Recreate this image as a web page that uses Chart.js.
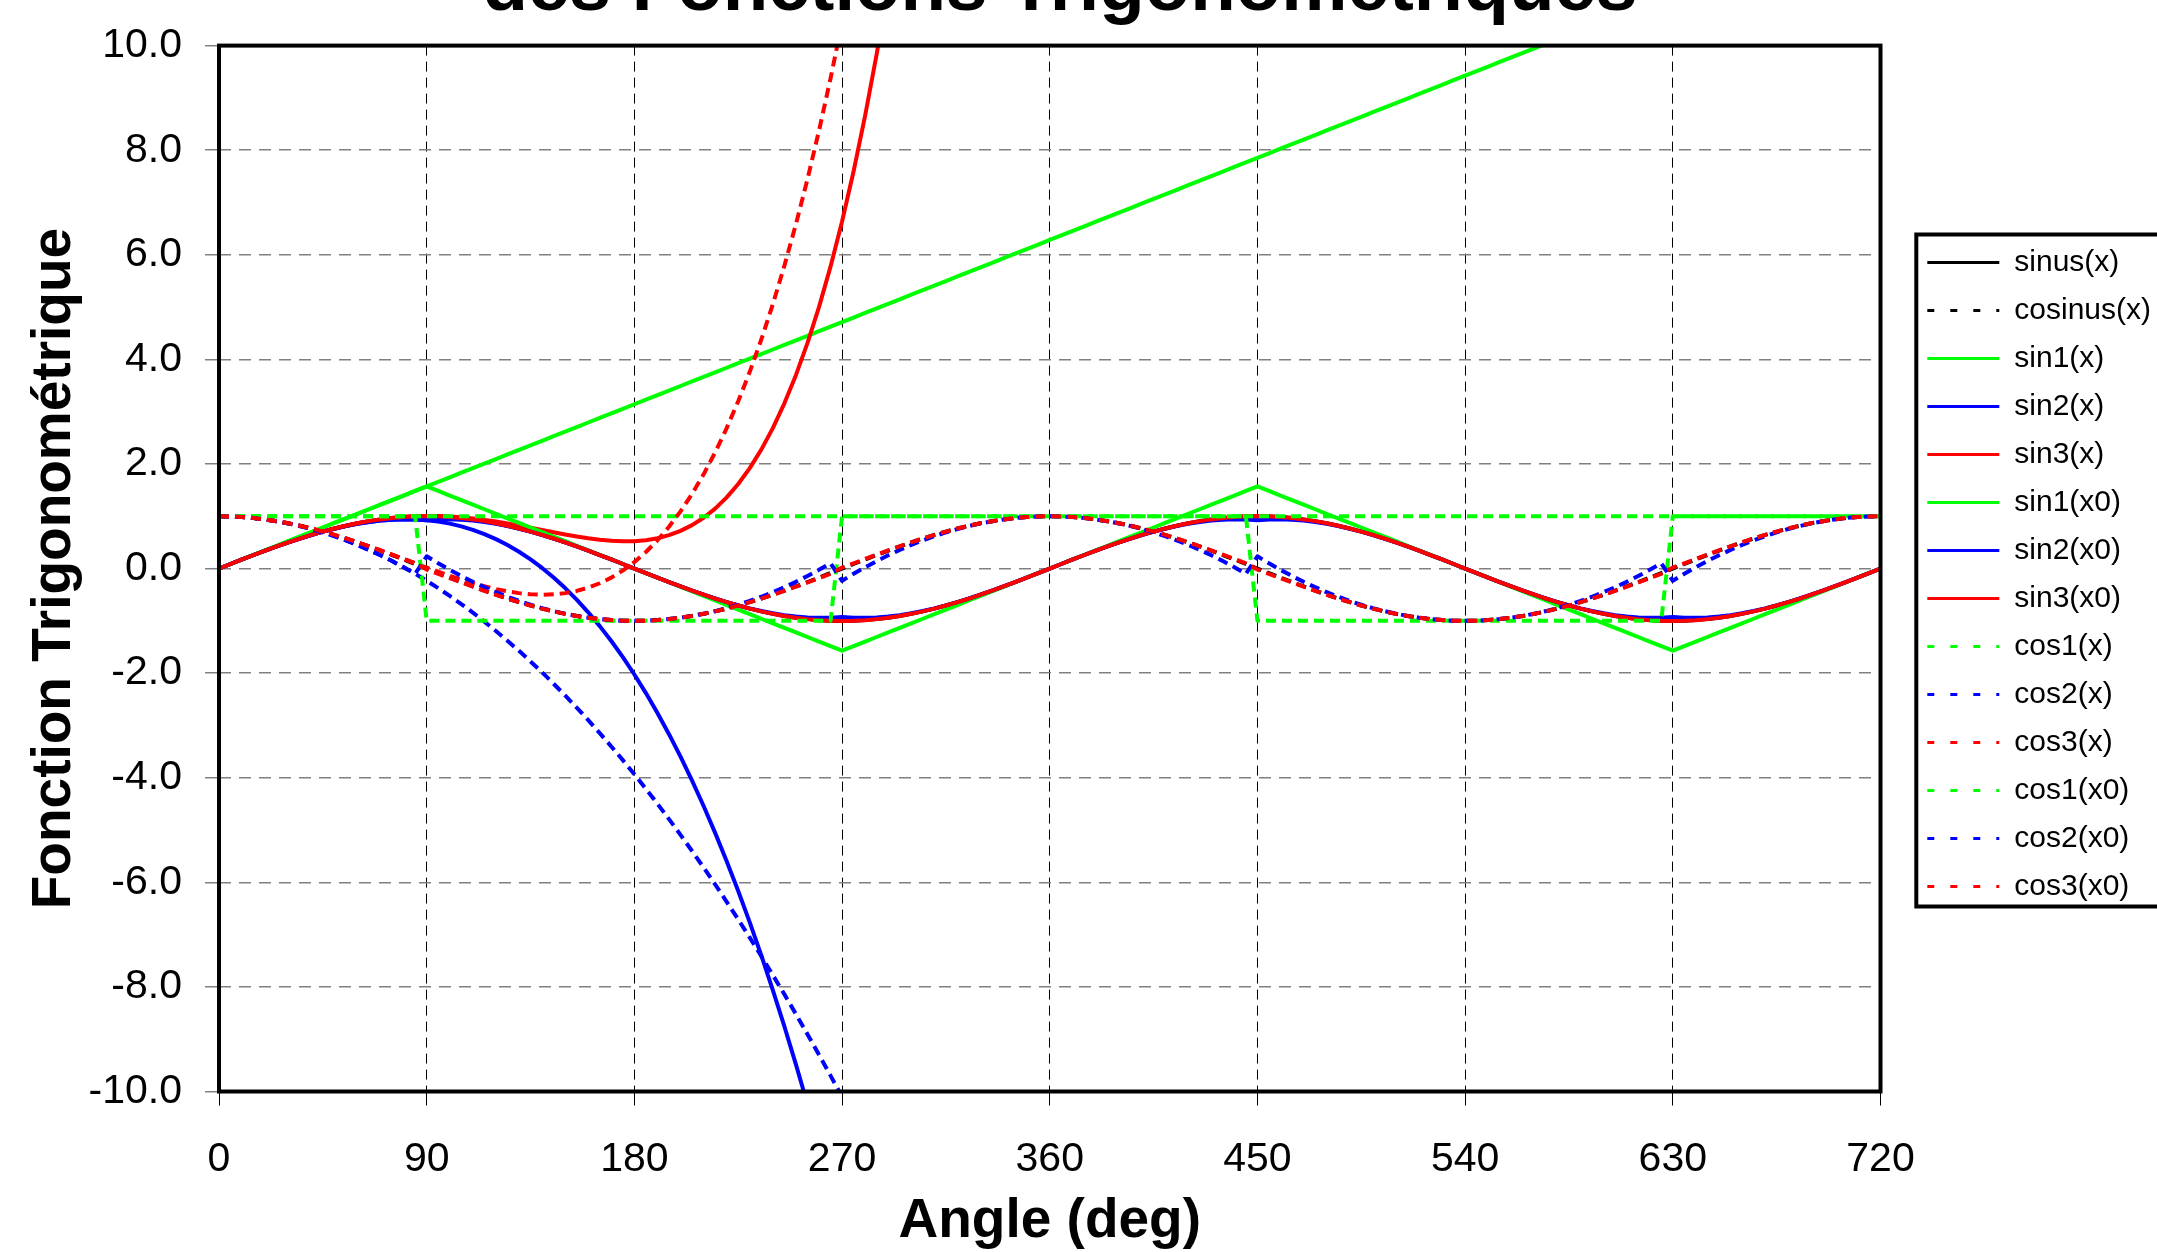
<!DOCTYPE html>
<html>
<head>
<meta charset="utf-8">
<script src="https://cdn.jsdelivr.net/npm/chart.js@4/dist/chart.umd.min.js"></script>
<style>
html,body{margin:0;padding:0;background:#fff;overflow:hidden;width:2157px;height:1252px;}
#c{position:absolute;left:-41px;top:-106px;}
</style>
</head>
<body>
<canvas id="c" width="2202" height="1361"></canvas>
<script>
// ---------- data ----------
const chartTitle = 'des Fonctions Trigonométriques';
const xTitle = 'Angle (deg)';
const yTitle = 'Fonction Trigonométrique';
const xTickValues = [0, 90, 180, 270, 360, 450, 540, 630, 720];
const yTickValues = [-10, -8, -6, -4, -2, 0, 2, 4, 6, 8, 10];

const seriesNames = ['sinus(x)','cosinus(x)','sin1(x)','sin2(x)','sin3(x)','sin1(x0)','sin2(x0)','sin3(x0)','cos1(x)','cos2(x)','cos3(x)','cos1(x0)','cos2(x0)','cos3(x0)'];

const angles = [0,5,10,15,20,25,30,35,40,45,50,55,60,65,70,75,80,85,90,95,100,105,110,115,120,125,130,135,140,145,150,155,160,165,170,175,180,185,190,195,200,205,210,215,220,225,230,235,240,245,250,255,260,265,270,275,280,285,290,295,300,305,310,315,320,325,330,335,340,345,350,355,360,365,370,375,380,385,390,395,400,405,410,415,420,425,430,435,440,445,450,455,460,465,470,475,480,485,490,495,500,505,510,515,520,525,530,535,540,545,550,555,560,565,570,575,580,585,590,595,600,605,610,615,620,625,630,635,640,645,650,655,660,665,670,675,680,685,690,695,700,705,710,715,720];

const sinusX = [0,.087,.174,.259,.342,.423,.5,.574,.643,.707,.766,.819,.866,.906,.94,.966,.985,.996,1,.996,.985,.966,.94,.906,.866,.819,.766,.707,.643,.574,.5,.423,.342,.259,.174,.087,0,-.087,-.174,-.259,-.342,-.423,-.5,-.574,-.643,-.707,-.766,-.819,-.866,-.906,-.94,-.966,-.985,-.996,-1,-.996,-.985,-.966,-.94,-.906,-.866,-.819,-.766,-.707,-.643,-.574,-.5,-.423,-.342,-.259,-.174,-.087,
0,.087,.174,.259,.342,.423,.5,.574,.643,.707,.766,.819,.866,.906,.94,.966,.985,.996,1,.996,.985,.966,.94,.906,.866,.819,.766,.707,.643,.574,.5,.423,.342,.259,.174,.087,0,-.087,-.174,-.259,-.342,-.423,-.5,-.574,-.643,-.707,-.766,-.819,-.866,-.906,-.94,-.966,-.985,-.996,-1,-.996,-.985,-.966,-.94,-.906,-.866,-.819,-.766,-.707,-.643,-.574,-.5,-.423,-.342,-.259,-.174,-.087,0];

const cosinusX = [1,.996,.985,.966,.94,.906,.866,.819,.766,.707,.643,.574,.5,.423,.342,.259,.174,.087,0,-.087,-.174,-.259,-.342,-.423,-.5,-.574,-.643,-.707,-.766,-.819,-.866,-.906,-.94,-.966,-.985,-.996,-1,-.996,-.985,-.966,-.94,-.906,-.866,-.819,-.766,-.707,-.643,-.574,-.5,-.423,-.342,-.259,-.174,-.087,0,.087,.174,.259,.342,.423,.5,.574,.643,.707,.766,.819,.866,.906,.94,.966,.985,.996,
1,.996,.985,.966,.94,.906,.866,.819,.766,.707,.643,.574,.5,.423,.342,.259,.174,.087,0,-.087,-.174,-.259,-.342,-.423,-.5,-.574,-.643,-.707,-.766,-.819,-.866,-.906,-.94,-.966,-.985,-.996,-1,-.996,-.985,-.966,-.94,-.906,-.866,-.819,-.766,-.707,-.643,-.574,-.5,-.423,-.342,-.259,-.174,-.087,0,.087,.174,.259,.342,.423,.5,.574,.643,.707,.766,.819,.866,.906,.94,.966,.985,.996,1];

const sin1X = [0,.087,.175,.262,.349,.436,.524,.611,.698,.785,.873,.96,1.047,1.134,1.222,1.309,1.396,1.484,1.571,1.658,1.745,1.833,1.92,2.007,2.094,2.182,2.269,2.356,2.443,2.531,2.618,2.705,2.793,2.88,2.967,3.054,3.142,3.229,3.316,3.403,3.491,3.578,3.665,3.752,3.84,3.927,4.014,4.102,4.189,4.276,4.363,4.451,4.538,4.625,4.712,4.8,4.887,4.974,5.061,5.149,5.236,5.323,5.411,5.498,5.585,5.672,5.76,5.847,5.934,6.021,6.109,6.196,6.283,6.37,6.458,6.545,6.632,6.72,6.807,6.894,6.981,7.069,7.156,7.243,7.33,7.418,7.505,7.592,7.679,7.767,7.854,7.941,8.029,8.116,8.203,8.29,8.378,8.465,8.552,8.639,8.727,8.814,8.901,8.988,9.076,9.163,9.25,9.338,9.425,9.512,9.599,9.687,9.774,9.861,9.948,10.036];

const sin2X = [0,.087,.174,.259,.342,.422,.5,.573,.641,.705,.762,.813,.856,.891,.918,.935,.943,.939,.925,.898,.859,.807,.74,.659,.563,.451,.322,.176,.012,-.171,-.373,-.594,-.837,-1.101,-1.386,-1.695,-2.026,-2.382,-2.762,-3.167,-3.598,-4.056,-4.541,-5.054,-5.595,-6.166,-6.767,-7.398,-8.061,-8.755,-9.482,-10.242];

const sin3X = [0,.087,.174,.259,.342,.423,.5,.574,.643,.707,.766,.819,.866,.907,.94,.967,.987,.999,1.005,1.003,.994,.979,.958,.931,.899,.863,.823,.781,.738,.694,.652,.613,.578,.55,.53,.521,.524,.543,.58,.638,.721,.83,.971,1.146,1.36,1.616,1.92,2.275,2.686,3.159,3.698,4.31,4.999,5.773,6.637,7.598,8.662,9.838,11.132];

const sin1X0 = [0,.087,.175,.262,.349,.436,.524,.611,.698,.785,.873,.96,1.047,1.134,1.222,1.309,1.396,1.484,1.571,1.484,1.396,1.309,1.222,1.134,1.047,.96,.873,.785,.698,.611,.524,.436,.349,.262,.175,.087,0,-.087,-.175,-.262,-.349,-.436,-.524,-.611,-.698,-.785,-.873,-.96,-1.047,-1.134,-1.222,-1.309,-1.396,-1.484,-1.571,-1.484,-1.396,-1.309,-1.222,-1.134,-1.047,-.96,-.873,-.785,-.698,-.611,-.524,-.436,-.349,-.262,-.175,-.087,
0,.087,.175,.262,.349,.436,.524,.611,.698,.785,.873,.96,1.047,1.134,1.222,1.309,1.396,1.484,1.571,1.484,1.396,1.309,1.222,1.134,1.047,.96,.873,.785,.698,.611,.524,.436,.349,.262,.175,.087,0,-.087,-.175,-.262,-.349,-.436,-.524,-.611,-.698,-.785,-.873,-.96,-1.047,-1.134,-1.222,-1.309,-1.396,-1.484,-1.571,-1.484,-1.396,-1.309,-1.222,-1.134,-1.047,-.96,-.873,-.785,-.698,-.611,-.524,-.436,-.349,-.262,-.175,-.087,0];

const sin2X0 = [0,.087,.174,.259,.342,.422,.5,.573,.641,.705,.762,.813,.856,.891,.918,.935,.943,.939,.925,.939,.943,.935,.918,.891,.856,.813,.762,.705,.641,.573,.5,.422,.342,.259,.174,.087,0,-.087,-.174,-.259,-.342,-.422,-.5,-.573,-.641,-.705,-.762,-.813,-.856,-.891,-.918,-.935,-.943,-.939,-.925,-.939,-.943,-.935,-.918,-.891,-.856,-.813,-.762,-.705,-.641,-.573,-.5,-.422,-.342,-.259,-.174,-.087,
0,.087,.174,.259,.342,.422,.5,.573,.641,.705,.762,.813,.856,.891,.918,.935,.943,.939,.925,.939,.943,.935,.918,.891,.856,.813,.762,.705,.641,.573,.5,.422,.342,.259,.174,.087,0,-.087,-.174,-.259,-.342,-.422,-.5,-.573,-.641,-.705,-.762,-.813,-.856,-.891,-.918,-.935,-.943,-.939,-.925,-.939,-.943,-.935,-.918,-.891,-.856,-.813,-.762,-.705,-.641,-.573,-.5,-.422,-.342,-.259,-.174,-.087,0];

const sin3X0 = [0,.087,.174,.259,.342,.423,.5,.574,.643,.707,.766,.819,.866,.907,.94,.967,.987,.999,1.005,.999,.987,.967,.94,.907,.866,.819,.766,.707,.643,.574,.5,.423,.342,.259,.174,.087,0,-.087,-.174,-.259,-.342,-.423,-.5,-.574,-.643,-.707,-.766,-.819,-.866,-.907,-.94,-.967,-.987,-.999,-1.005,-.999,-.987,-.967,-.94,-.907,-.866,-.819,-.766,-.707,-.643,-.574,-.5,-.423,-.342,-.259,-.174,-.087,
0,.087,.174,.259,.342,.423,.5,.574,.643,.707,.766,.819,.866,.907,.94,.967,.987,.999,1.005,.999,.987,.967,.94,.907,.866,.819,.766,.707,.643,.574,.5,.423,.342,.259,.174,.087,0,-.087,-.174,-.259,-.342,-.423,-.5,-.574,-.643,-.707,-.766,-.819,-.866,-.907,-.94,-.967,-.987,-.999,-1.005,-.999,-.987,-.967,-.94,-.907,-.866,-.819,-.766,-.707,-.643,-.574,-.5,-.423,-.342,-.259,-.174,-.087,0];

const cos1X = [1,1,1,1,1,1,1,1,1,1,1,1,1,1,1,1,1,1,1,1,1,1,1,1,1,1,1,1,1,1,1,1,1,1,1,1,1,1,1,1,1,1,1,1,1,1,1,1,1,1,1,1,1,1,1,1,1,1,1,1,1,1,1,1,1,1,1,1,1,1,1,1,
1,1,1,1,1,1,1,1,1,1,1,1,1,1,1,1,1,1,1,1,1,1,1,1,1,1,1,1,1,1,1,1,1,1,1,1,1,1,1,1,1,1,1,1,1,1,1,1,1,1,1,1,1,1,1,1,1,1,1,1,1,1,1,1,1,1,1,1,1,1,1,1,1];

const cos2X = [1,.996,.985,.966,.939,.905,.863,.813,.756,.692,.619,.539,.452,.356,.254,.143,.025,-.1,-.234,-.375,-.523,-.679,-.843,-1.014,-1.193,-1.38,-1.574,-1.776,-1.985,-2.202,-2.427,-2.659,-2.899,-3.147,-3.402,-3.664,-3.935,-4.213,-4.498,-4.792,-5.092,-5.401,-5.717,-6.04,-6.372,-6.711,-7.057,-7.411,-7.773,-8.142,-8.519,-8.904,-9.296,-9.696,-10.103];

const cos3X = [1,.996,.985,.966,.94,.906,.866,.819,.766,.707,.643,.575,.502,.426,.347,.266,.184,.101,.02,-.06,-.137,-.209,-.277,-.338,-.392,-.436,-.47,-.492,-.5,-.493,-.47,-.428,-.365,-.281,-.173,-.038,.124,.316,.54,.799,1.094,1.428,1.802,2.221,2.685,3.198,3.762,4.38,5.055,5.788,6.584,7.444,8.372,9.371,10.444];

const cos1X0 = [1,1,1,1,1,1,1,1,1,1,1,1,1,1,1,1,1,1,-1,-1,-1,-1,-1,-1,-1,-1,-1,-1,-1,-1,-1,-1,-1,-1,-1,-1,-1,-1,-1,-1,-1,-1,-1,-1,-1,-1,-1,-1,-1,-1,-1,-1,-1,-1,1,1,1,1,1,1,1,1,1,1,1,1,1,1,1,1,1,1,
1,1,1,1,1,1,1,1,1,1,1,1,1,1,1,1,1,1,-1,-1,-1,-1,-1,-1,-1,-1,-1,-1,-1,-1,-1,-1,-1,-1,-1,-1,-1,-1,-1,-1,-1,-1,-1,-1,-1,-1,-1,-1,-1,-1,-1,-1,-1,-1,1,1,1,1,1,1,1,1,1,1,1,1,1,1,1,1,1,1,1];

const cos2X0 = [1,.996,.985,.966,.939,.905,.863,.813,.756,.692,.619,.539,.452,.356,.254,.143,.025,-.1,.234,.1,-.025,-.143,-.254,-.356,-.452,-.539,-.619,-.692,-.756,-.813,-.863,-.905,-.939,-.966,-.985,-.996,-1,-.996,-.985,-.966,-.939,-.905,-.863,-.813,-.756,-.692,-.619,-.539,-.452,-.356,-.254,-.143,-.025,.1,-.234,-.1,.025,.143,.254,.356,.452,.539,.619,.692,.756,.813,.863,.905,.939,.966,.985,.996,
1,.996,.985,.966,.939,.905,.863,.813,.756,.692,.619,.539,.452,.356,.254,.143,.025,-.1,.234,.1,-.025,-.143,-.254,-.356,-.452,-.539,-.619,-.692,-.756,-.813,-.863,-.905,-.939,-.966,-.985,-.996,-1,-.996,-.985,-.966,-.939,-.905,-.863,-.813,-.756,-.692,-.619,-.539,-.452,-.356,-.254,-.143,-.025,.1,-.234,-.1,.025,.143,.254,.356,.452,.539,.619,.692,.756,.813,.863,.905,.939,.966,.985,.996,1];

const cos3X0 = [1,.996,.985,.966,.94,.906,.866,.819,.766,.707,.643,.575,.502,.426,.347,.266,.184,.101,-.02,-.101,-.184,-.266,-.347,-.426,-.502,-.575,-.643,-.707,-.766,-.819,-.866,-.906,-.94,-.966,-.985,-.996,-1,-.996,-.985,-.966,-.94,-.906,-.866,-.819,-.766,-.707,-.643,-.575,-.502,-.426,-.347,-.266,-.184,-.101,.02,.101,.184,.266,.347,.426,.502,.575,.643,.707,.766,.819,.866,.906,.94,.966,.985,.996,
1,.996,.985,.966,.94,.906,.866,.819,.766,.707,.643,.575,.502,.426,.347,.266,.184,.101,-.02,-.101,-.184,-.266,-.347,-.426,-.502,-.575,-.643,-.707,-.766,-.819,-.866,-.906,-.94,-.966,-.985,-.996,-1,-.996,-.985,-.966,-.94,-.906,-.866,-.819,-.766,-.707,-.643,-.575,-.502,-.426,-.347,-.266,-.184,-.101,.02,.101,.184,.266,.347,.426,.502,.575,.643,.707,.766,.819,.866,.906,.94,.966,.985,.996,1];

// ---------- styling ----------
const OFF_X = 41;               // canvas shifted left (px)
const PLOT_RIGHT = 1880.5;      // screen x of plot right edge
const FONT = "'Liberation Sans', Arial, Helvetica, sans-serif";
Chart.defaults.font.family = FONT;
Chart.defaults.color = '#000';

const palette = { k: '#000000', g: '#00FF00', b: '#0000FF', r: '#FF0000' };
const seriesColor = ['k','k','g','b','r','g','b','r','g','b','r','g','b','r'];
const seriesDashed = [false,true,false,false,false,false,false,false,true,true,true,true,true,true];
const seriesData = [sinusX, cosinusX, sin1X, sin2X, sin3X, sin1X0, sin2X0, sin3X0, cos1X, cos2X, cos3X, cos1X0, cos2X0, cos3X0];

const datasets = seriesNames.map((name, i) => ({
  label: name,
  data: seriesData[i],
  borderColor: palette[seriesColor[i]],
  backgroundColor: palette[seriesColor[i]],
  borderWidth: 4,
  borderDash: seriesDashed[i] ? [10, 6] : [],
  borderJoinStyle: 'round',
  pointRadius: 0,
  pointHoverRadius: 0,
  fill: false,
  tension: 0,
  order: seriesNames.length - 1 - i
}));

const framePlugin = {
  id: 'frame',
  afterDatasetsDraw(chart) {
    const { ctx, chartArea: a } = chart;
    ctx.save();
    ctx.strokeStyle = '#000';
    ctx.lineWidth = 4;
    ctx.setLineDash([]);
    ctx.strokeRect(a.left, a.top, a.right - a.left, a.bottom - a.top);
    ctx.restore();
  },
  afterDraw(chart) {
    const lg = chart.legend;
    if (!lg || !lg.legendHitBoxes || !lg.legendHitBoxes.length) return;
    const hb = lg.legendHitBoxes;
    const first = hb[0], last = hb[hb.length - 1];
    const top = first.top - 13;
    const bottom = last.top + last.height + 5;
    const ctx = chart.ctx;
    ctx.save();
    ctx.strokeStyle = '#000';
    ctx.lineWidth = 4;
    ctx.setLineDash([]);
    ctx.strokeRect(lg.left + 7, top, chart.width, bottom - top);
    ctx.restore();
  }
};

new Chart(document.getElementById('c'), {
  type: 'line',
  data: { labels: angles, datasets },
  plugins: [framePlugin],
  options: {
    responsive: false,
    devicePixelRatio: 1,
    animation: false,
    events: [],
    layout: { padding: 0 },
    plugins: {
      tooltip: { enabled: false },
      title: {
        display: true,
        text: chartTitle,
        color: '#000',
        font: { size: 74.5, weight: 'bold' },
        padding: { top: 51, bottom: 11.2 }
      },
      legend: {
        display: true,
        position: 'right',
        align: 'center',
        labels: {
          color: '#000',
          font: { size: 30 },
          usePointStyle: true,
          pointStyle: 'line',
          pointStyleWidth: 72,
          padding: 18,
          sort: (a, b) => a.datasetIndex - b.datasetIndex,
          generateLabels: (chart) => {
            const items = Chart.defaults.plugins.legend.labels.generateLabels(chart);
            items.forEach(it => {
              it.lineDash = seriesDashed[it.datasetIndex] ? [7, 16] : [];
              it.lineWidth = 3;
              it.pointStyle = 'line';
            });
            return items;
          }
        }
      }
    },
    scales: {
      x: {
        type: 'linear',
        position: 'bottom',
        min: 0,
        max: 720,
        afterBuildTicks: (s) => { s.ticks = xTickValues.map(v => ({ value: v })); },
        ticks: { color: '#000', font: { size: 41 }, padding: 30, maxRotation: 0, autoSkip: false, callback: (v) => String(v) },
        grid: { color: '#000', lineWidth: 1, drawTicks: true, tickLength: 14, tickColor: '#000', tickWidth: 1, tickBorderDash: [] },
        border: { display: false, dash: [10, 6] },
        title: { display: true, text: xTitle, color: '#000', font: { size: 55, weight: 'bold' }, padding: { top: 0, bottom: 0 } },
        afterFit: (s) => { s.height = 163.5; }
      },
      y: {
        type: 'linear',
        position: 'left',
        min: -10,
        max: 10,
        afterBuildTicks: (s) => { s.ticks = yTickValues.map(v => ({ value: v })); },
        ticks: { color: '#000', font: { size: 41 }, padding: 23, callback: (v) => Number(v).toFixed(1) },
        grid: { color: '#808080', lineWidth: 1.5, drawTicks: true, tickLength: 14, tickColor: '#808080', tickWidth: 1.5, tickBorderDash: [] },
        border: { display: false, dash: [12, 8] },
        title: { display: true, text: yTitle, color: '#000', font: { size: 55, weight: 'bold' }, padding: { top: 63, bottom: 0 } },
        afterFit: (s) => { s.width = 260; }
      },
      gap: {
        type: 'linear',
        position: 'right',
        display: true,
        grid: { display: false },
        ticks: { display: false },
        border: { display: false },
        title: { display: false },
        afterFit: (s) => {
          const lw = (s.chart.legend && s.chart.legend.width) || 252;
          s.width = Math.max(0, s.chart.width - lw - (PLOT_RIGHT + OFF_X));
        }
      }
    }
  }
});
</script>
</body>
</html>
